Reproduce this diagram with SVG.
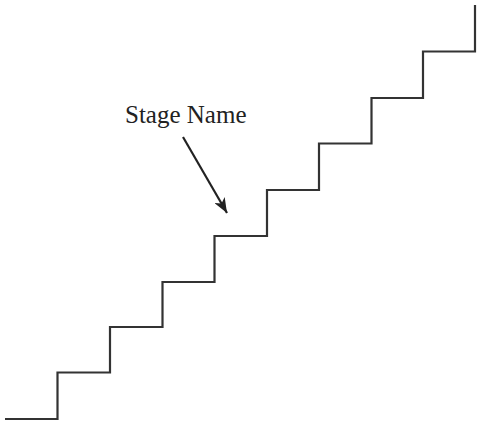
<svg xmlns="http://www.w3.org/2000/svg" width="477" height="424" viewBox="0 0 477 424">
<style>
.stair{fill:none;stroke:#333;stroke-width:2.2;stroke-linejoin:miter}
.arrow{fill:none;stroke:#222;stroke-width:2.2}
.label{font-family:"Liberation Serif","Times New Roman",serif;font-size:25px;fill:#222}
</style>
<defs>
<marker id="ah" markerUnits="userSpaceOnUse" markerWidth="16" markerHeight="12" refX="15" refY="6" orient="auto">
<path d="M0,0 L15,6 L0,12 L4,6 Z" fill="#222"/>
</marker>
</defs>
<rect width="477" height="424" fill="#fff"/>
<g id="stairs">
<path class="stair" d="M5,419 H57.5 V372.5 H110 V327 H162.5 V282 H214.5 V236 H267 V190 H319 V143.5 H371.5 V98 H423 V51.5 H475 V5"/>
</g>
<g id="stage-name">
<text class="label" x="125" y="123">Stage Name</text>
</g>
<g id="connectors">
<line class="arrow" x1="183" y1="137" x2="227" y2="213" marker-end="url(#ah)"/>
</g>
</svg>
